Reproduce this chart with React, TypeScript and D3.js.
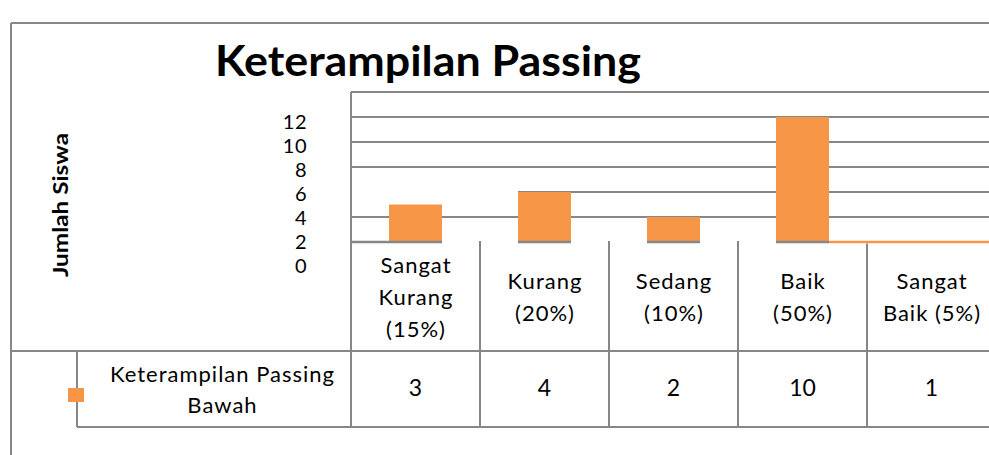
import React from "react";
import * as d3 from "d3";

// data
const categories = ["Sangat Kurang (15%)", "Kurang (20%)", "Sedang (10%)", "Baik (50%)", "Sangat Baik (5%)"];
const categoryLines = [["Sangat", "Kurang", "(15%)"], ["Kurang", "(20%)"], ["Sedang", "(10%)"], ["Baik", "(50%)"], ["Sangat", "Baik (5%)"]];
const values = [3, 4, 2, 10, 1];
const yTicks = [0, 2, 4, 6, 8, 10, 12];
const seriesName = ["Keterampilan Passing", "Bawah"];
const title = "Keterampilan Passing";
const yTitle = "Jumlah Siswa";

const W = 989, H = 455;
const GRAY = "#878787";
const ORANGE = "#F79646";
const FONT = "Lato, 'Open Sans', sans-serif";

const App = () => {
  // plot / table geometry
  const plotLeft = 351, plotTop = 92, plotBottom = 242;
  const tableMid = 351, tableBottom = 427;
  const x = d3.scaleBand().domain(categories).range([plotLeft, plotLeft + 129 * 5]).padding(0);
  const y = d3.scaleLinear().domain([0, 12]).range([plotBottom, plotTop]);
  // tick labels sit a bit lower than the gridlines in the original
  const yLabel = d3.scaleLinear().domain([0, 12]).range([265, 121]);
  const barW = 53;
  const barX = (c) => x(c) + (x.bandwidth() - barW) / 2;
  const ls = 1;

  return (
    <svg width={W} height={H} style={{ position: "absolute", left: 0, top: 0, background: "#fff" }} fontFamily={FONT}>
      {/* outer frame */}
      <line x1={11} x2={11} y1={23} y2={H} stroke={GRAY} strokeWidth={2} />
      <line x1={11} x2={W} y1={23} y2={23} stroke={GRAY} strokeWidth={2} />

      <text x={428} y={76} textAnchor="middle" fontWeight="bold" fontSize={42} textLength={426} lengthAdjust="spacingAndGlyphs">
        {title}
      </text>

      <text transform="translate(68,205) rotate(-90)" textAnchor="middle" fontWeight="bold" fontSize={21} textLength={144} lengthAdjust="spacingAndGlyphs">
        {yTitle}
      </text>

      {/* gridlines */}
      {yTicks.filter((t) => t > 0).map((t) => (
        <line key={t} x1={t === 4 ? barX(categories[1]) : plotLeft} x2={W} y1={y(t)} y2={y(t)} stroke={GRAY} strokeWidth={2} />
      ))}

      {/* tick labels */}
      {yTicks.map((t) => (
        <text key={t} x={307} y={yLabel(t)} textAnchor="end" dominantBaseline="central" fontSize={20} letterSpacing={0.5}>
          {t}
        </text>
      ))}

      {/* bars */}
      {values.slice(0, 4).map((v, i) => (
        <g key={i}>
          <rect x={barX(categories[i])} y={y(v)} width={barW} height={plotBottom - y(v)} fill={ORANGE} />
          <line x1={barX(categories[i])} x2={barX(categories[i]) + barW} y1={plotBottom} y2={plotBottom} stroke={GRAY} strokeWidth={2.5} />
        </g>
      ))}
      {/* last bar collapses to a strip along the base in the original */}
      <line x1={barX(categories[3]) + barW} x2={W} y1={plotBottom} y2={plotBottom} stroke={ORANGE} strokeWidth={2.5} />
      <line x1={plotLeft} x2={barX(categories[0])} y1={plotBottom} y2={plotBottom} stroke={GRAY} strokeWidth={2.5} />

      {/* table lines */}
      <line x1={plotLeft} x2={plotLeft} y1={plotTop} y2={tableBottom} stroke={GRAY} strokeWidth={2} />
      {categories.slice(1).map((c, i) => (
        <line key={c} x1={x(c)} x2={x(c)} y1={i === 3 ? plotBottom + 1.5 : plotBottom - 1} y2={tableBottom} stroke={GRAY} strokeWidth={2} />
      ))}
      <line x1={11} x2={W} y1={tableMid} y2={tableMid} stroke={GRAY} strokeWidth={2} />
      <line x1={77} x2={W} y1={tableBottom} y2={tableBottom} stroke={GRAY} strokeWidth={2} />
      <line x1={77} x2={77} y1={tableMid} y2={tableBottom} stroke={GRAY} strokeWidth={2} />

      {/* category labels */}
      {categories.map((c, i) => {
        const lines = categoryLines[i];
        const cx = x(c) + x.bandwidth() / 2 + ls / 2;
        return (
          <text key={c} x={cx} textAnchor="middle" fontSize={22} letterSpacing={ls}>
            {lines.map((l, j) => (
              <tspan key={j} x={cx} y={305 + (j - (lines.length - 1) / 2) * 32}>
                {l}
              </tspan>
            ))}
          </text>
        );
      })}

      {/* data row */}
      {values.map((v, i) => (
        <text key={i} x={x(categories[i]) + x.bandwidth() / 2} y={396} textAnchor="middle" fontSize={23}>
          {v}
        </text>
      ))}

      {/* legend cell */}
      <rect x={68} y={388} width={16} height={14} fill={ORANGE} />
      {seriesName.map((l, j) => (
        <text key={j} x={222 + ls / 2} y={382 + j * 31} textAnchor="middle" fontSize={22} letterSpacing={ls}>
          {l}
        </text>
      ))}
    </svg>
  );
};

export default App;
